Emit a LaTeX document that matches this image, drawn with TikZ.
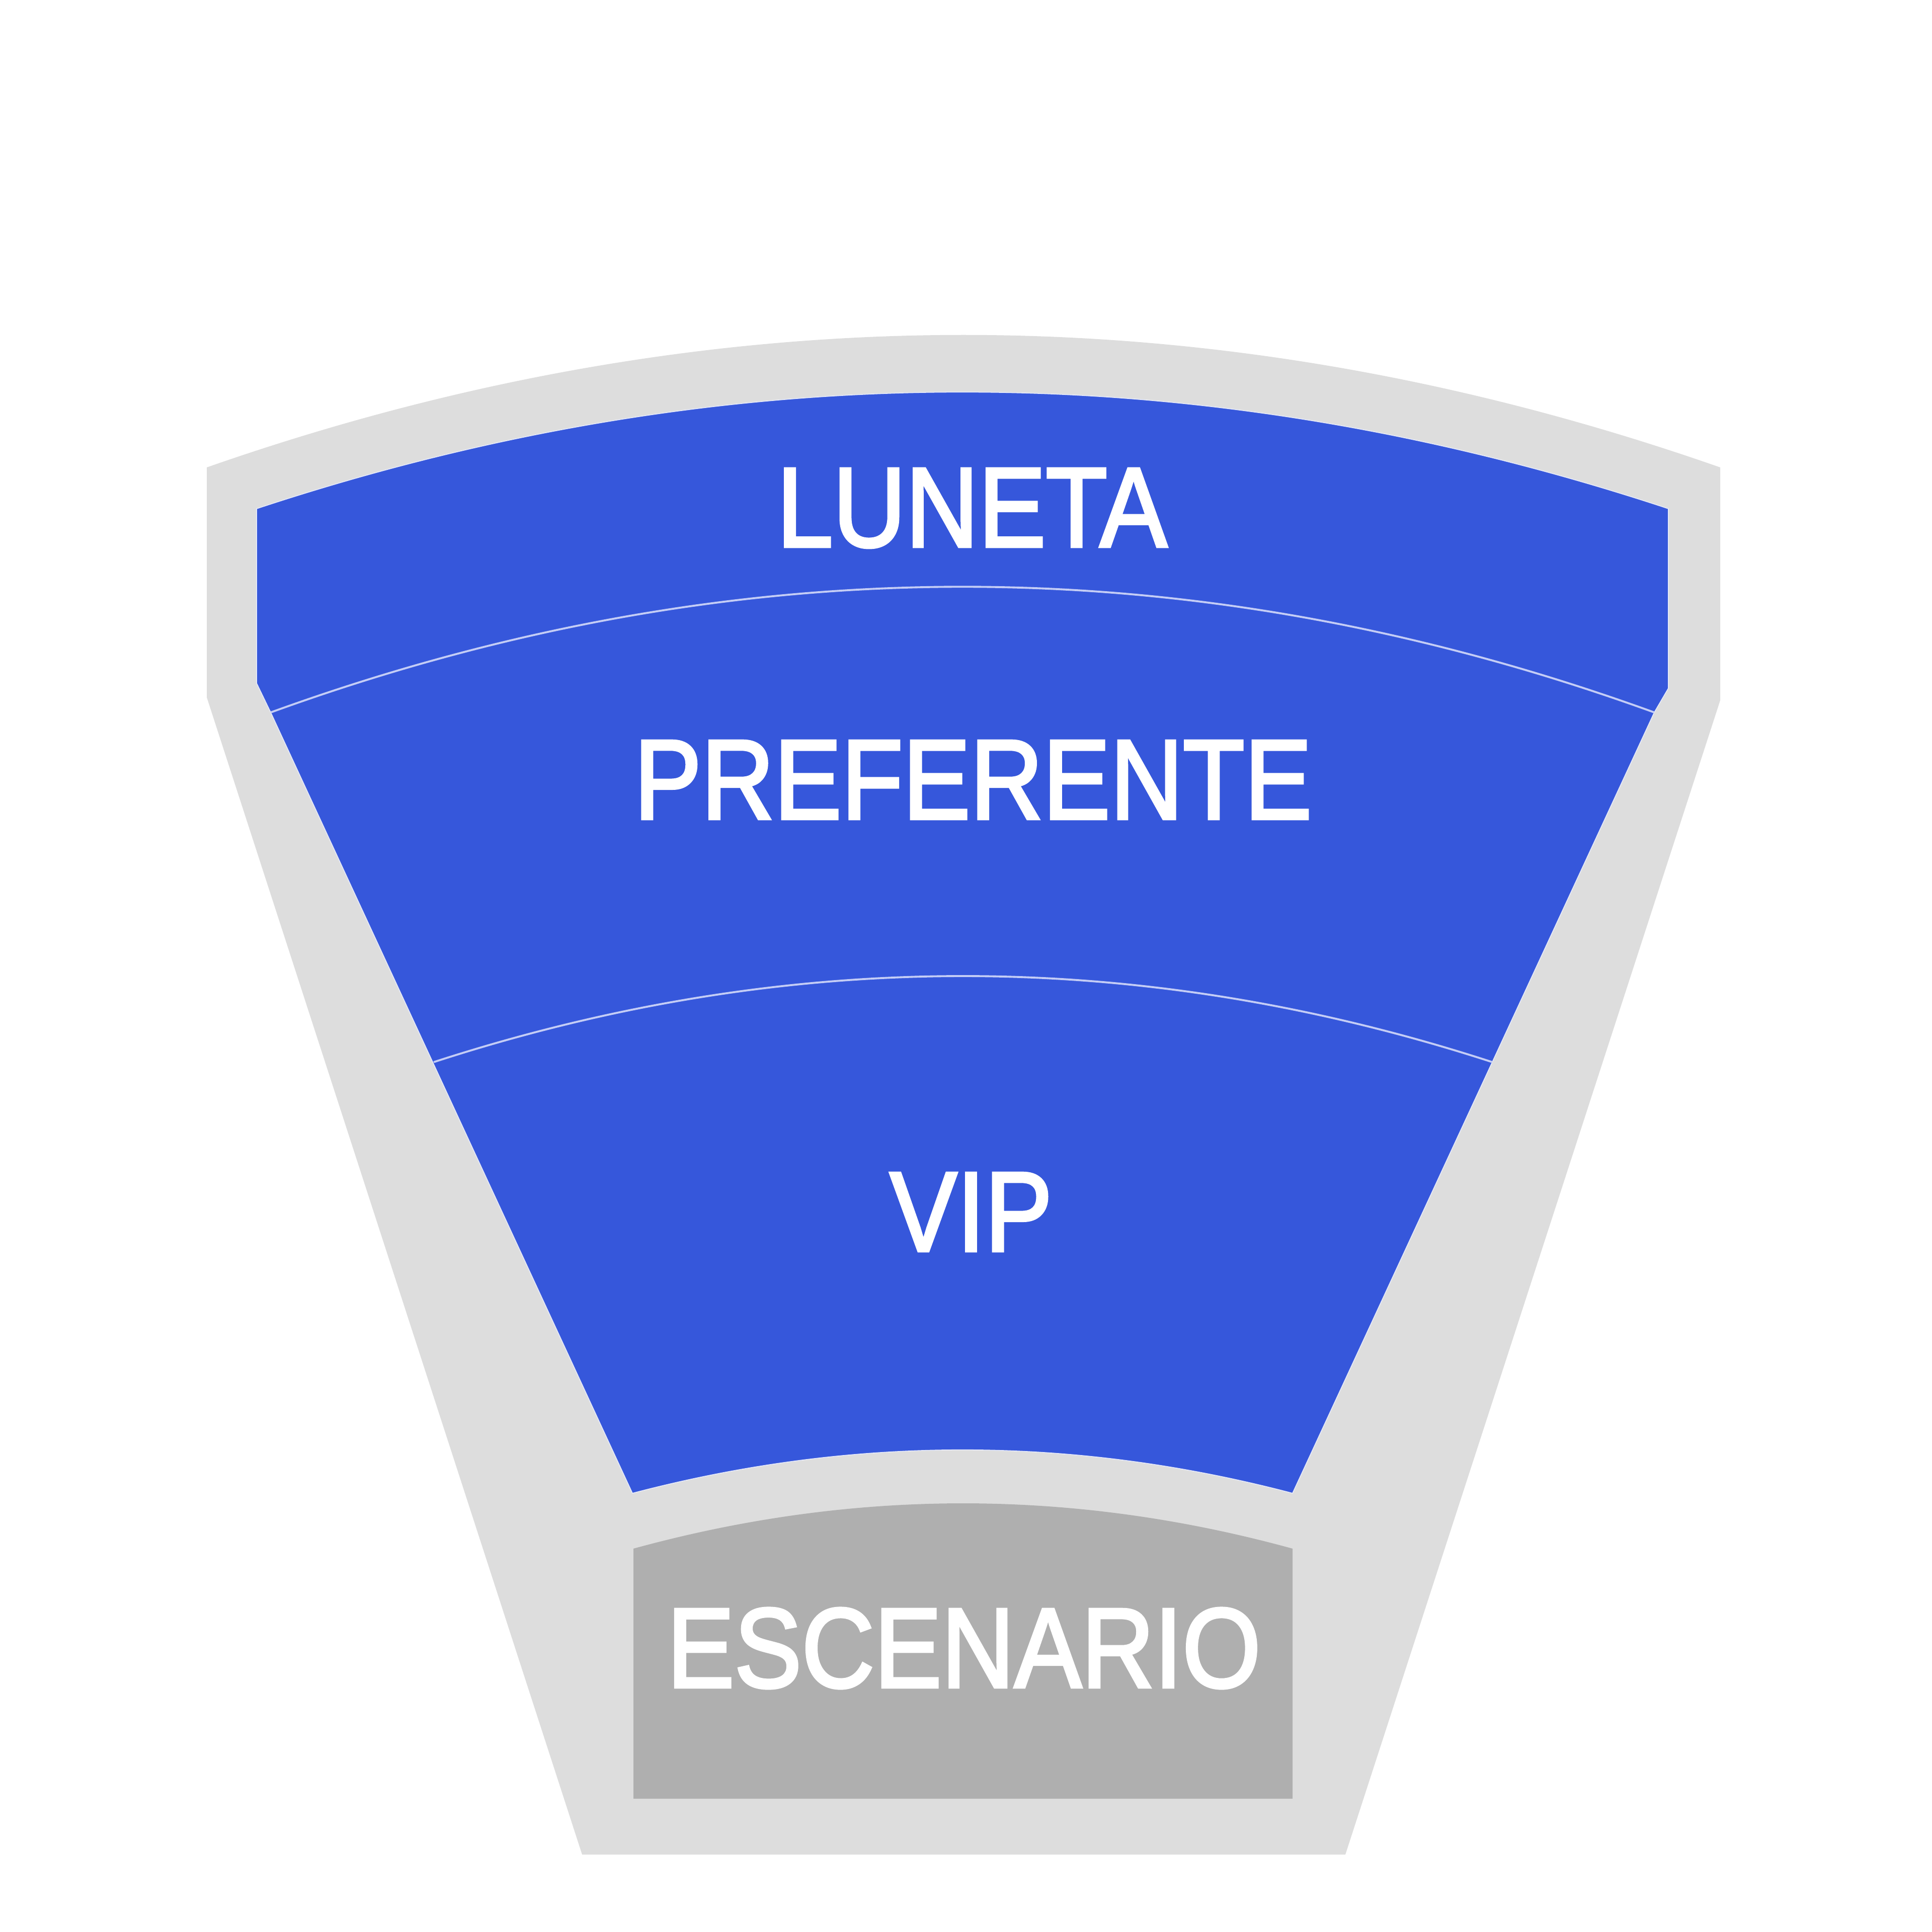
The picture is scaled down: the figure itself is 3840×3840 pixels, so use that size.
\documentclass[tikz,border=0pt]{standalone}
\usepackage{fontspec}
\setmainfont{Liberation Sans}
\newfontfamily\lblfont{Liberation Sans}[FakeBold=2.6]
\definecolor{seatblue}{HTML}{3657DB}
\definecolor{hallgray}{HTML}{DDDDDD}
\definecolor{stagegray}{HTML}{AFAFAF}
\definecolor{divcol}{HTML}{C4CDF6}
\definecolor{edgecol}{HTML}{E4E8F8}
\begin{document}
\begin{tikzpicture}[x=0.01cm,y=-0.01cm,
  lbl/.style={inner sep=0pt, text=white, font=\lblfont\fontsize{64}{64}\selectfont},
  divider/.style={draw=divcol, line width=1.1pt},
  seats/.style={fill=seatblue, draw=edgecol, line width=0.5pt},
  hall/.style={fill=hallgray},
  stagebox/.style={fill=stagegray}
]
\fill[white] (0,0) rectangle (3840,3840);
\useasboundingbox (0,0) rectangle (3840,3840);
% named corner points
\coordinate (oTL) at (411,929);
\coordinate (oTR) at (3419,929);
\coordinate (oRB) at (3419,1392);
\coordinate (oBR) at (2674,3686);
\coordinate (oBL) at (1157,3686);
\coordinate (oLB) at (411,1386);
\coordinate (bTL) at (510,1011);
\coordinate (bTR) at (3316,1011);
\coordinate (bRV) at (3316,1368);
\coordinate (bRS) at (3288,1416);
\coordinate (bBR) at (2569,2968);
\coordinate (bBL) at (1257,2968);
\coordinate (bLS) at (538,1416);
\coordinate (bLV) at (510,1358);
\coordinate (d2L) at (862,2111);
\coordinate (d2R) at (2966,2111);
\coordinate (sTL) at (1259,3078);
\coordinate (sTR) at (2569,3078);
\coordinate (sBR) at (2569,3575);
\coordinate (sBL) at (1259,3575);
% outer hall
\path[hall] (oTL) .. controls (1414,578) and (2416,578) .. (oTR) -- (oRB) -- (oBR) -- (oBL) -- (oLB) -- cycle;
% seating area
\path[seats] (bTL) .. controls (1445,702) and (2381,702) .. (bTR) -- (bRV) -- (bRS) -- (bBR)
  .. controls (2132,2853) and (1694,2853) .. (bBL) -- (bLS) -- (bLV) -- cycle;
% dividers
\draw[divider] (bLS) .. controls (1455,1083) and (2371,1083) .. (bRS);
\draw[divider] (d2L) .. controls (1563,1883) and (2265,1883) .. (d2R);
% stage
\path[stagebox] (sTL) .. controls (1696,2958) and (2132,2958) .. (sTR) -- (sBR) -- (sBL) -- cycle;
% labels
\node[lbl] (luneta) at (1932,1010) {\scalebox{0.89}[1]{LUNETA}};
\node[lbl] (preferente) at (1934,1550) {\scalebox{0.89}[1]{PREFERENTE}};
\node[lbl] (vip) at (1930,2409) {\scalebox{0.89}[1]{VIP}};
\node[lbl] (escenario) at (1916,3276) {\scalebox{0.89}[1]{ESCENARIO}};
\end{tikzpicture}
\end{document}
